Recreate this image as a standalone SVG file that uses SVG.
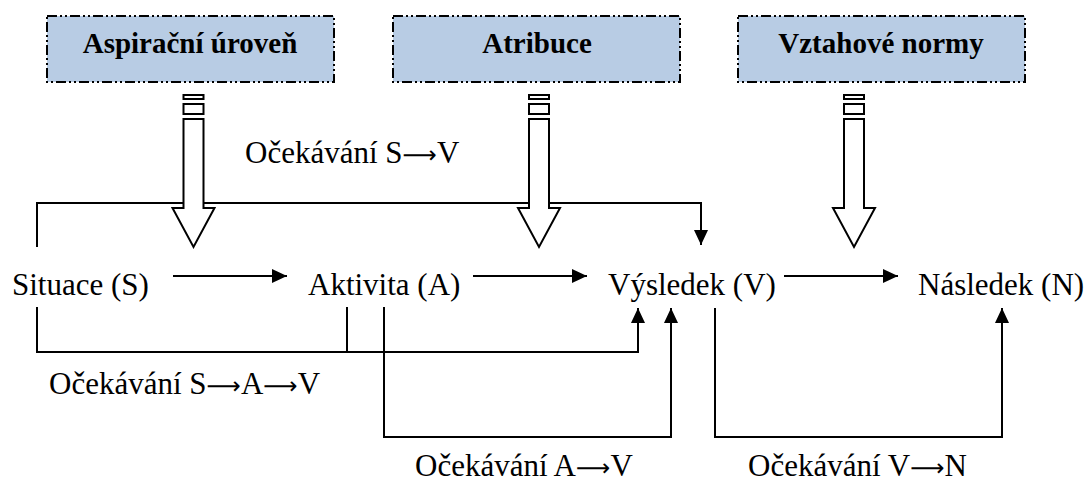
<svg xmlns="http://www.w3.org/2000/svg" width="1090" height="487" viewBox="0 0 1090 487">
<style>
.box{fill:#b8cce4;stroke:#000;stroke-width:2;stroke-dasharray:10 3 2 3 2 3}
.bt{font-family:"Liberation Serif","Times New Roman","DejaVu Serif",serif;font-weight:bold;font-size:29px;text-anchor:middle}
.t{font-family:"Liberation Serif","Times New Roman","DejaVu Serif",serif;font-size:31px}
.ar{font-family:"DejaVu Sans",sans-serif;font-size:24px}
.c{fill:none;stroke:#000;stroke-width:2}
.blk{fill:#fff;stroke:#000;stroke-width:2}
</style>
<defs>
<marker id="ah" markerUnits="userSpaceOnUse" markerWidth="16" markerHeight="16" refX="15" refY="7" orient="auto" viewBox="0 0 16 14">
<path d="M0,0 L15,7 L0,14 Z" fill="#000"/>
</marker>
</defs>
<g id="connectors">
<path class="c" d="M37,247 V203 H701 V245" marker-end="url(#ah)"/>
<path class="c" d="M173,276 H287" marker-end="url(#ah)"/>
<path class="c" d="M473,276 H587" marker-end="url(#ah)"/>
<path class="c" d="M784,276 H898" marker-end="url(#ah)"/>
<path class="c" d="M37,307 V352 H638 V308" marker-end="url(#ah)"/>
<path class="c" d="M347,307 V352"/>
<path class="c" d="M384,307 V437 H671 V308" marker-end="url(#ah)"/>
<path class="c" d="M715,308 V437 H1002 V308" marker-end="url(#ah)"/>
</g>
<g id="aspirace">
<rect class="box" x="47" y="16" width="287" height="66"/>
<text class="bt" x="190" y="53">Aspirační úroveň</text>
<rect class="blk" x="183.5" y="95" width="20" height="4"/>
<rect class="blk" x="183.5" y="104" width="20" height="10"/>
<polygon class="blk" points="183.5,119 203.5,119 203.5,208 214.5,208 193.5,247 172.5,208 183.5,208"/>
</g>
<g id="atribuce">
<rect class="box" x="393" y="16" width="287" height="66"/>
<text class="bt" x="537" y="53">Atribuce</text>
<rect class="blk" x="529" y="95" width="20" height="4"/>
<rect class="blk" x="529" y="104" width="20" height="10"/>
<polygon class="blk" points="529,119 549,119 549,208 560,208 539,247 518,208 529,208"/>
</g>
<g id="normy">
<rect class="box" x="738" y="16" width="287" height="66"/>
<text class="bt" x="881" y="53">Vztahové normy</text>
<rect class="blk" x="844" y="95" width="20" height="4"/>
<rect class="blk" x="844" y="104" width="20" height="10"/>
<polygon class="blk" points="844,119 864,119 864,208 875,208 854,247 833,208 844,208"/>
</g>
<g id="situace"><text class="t" x="12" y="295">Situace (S)</text></g>
<g id="aktivita"><text class="t" x="308" y="295">Aktivita (A)</text></g>
<g id="vysledek"><text class="t" x="608" y="295">Výsledek (V)</text></g>
<g id="nasledek"><text class="t" x="918" y="295">Následek (N)</text></g>
<g id="labels">
<text class="t" x="245" y="163">Očekávání S<tspan class="ar">⟶</tspan>V</text>
<text class="t" x="49" y="394">Očekávání S<tspan class="ar">⟶</tspan>A<tspan class="ar">⟶</tspan>V</text>
<text class="t" x="415" y="476">Očekávání A<tspan class="ar">⟶</tspan>V</text>
<text class="t" x="748" y="476">Očekávání V<tspan class="ar">⟶</tspan>N</text>
</g>
</svg>
